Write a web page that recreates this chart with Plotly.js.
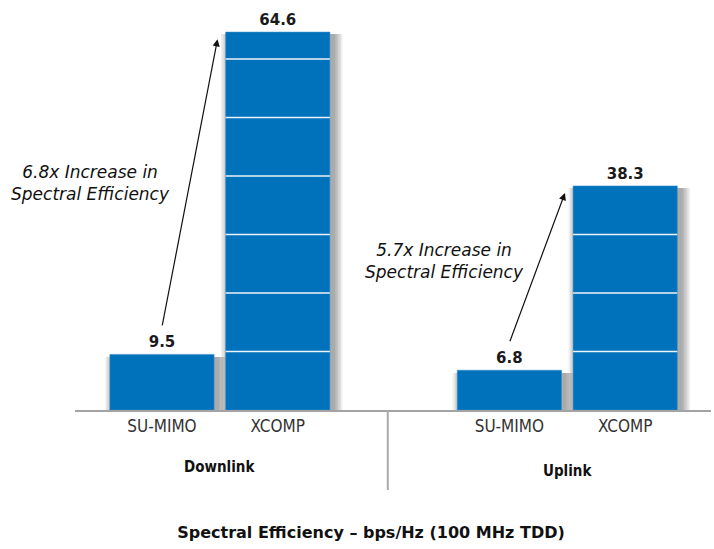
<!DOCTYPE html>
<html>
<head>
<meta charset="utf-8">
<script src="https://cdn.plot.ly/plotly-3.0.1.min.js"></script>
<style>
  html, body { margin: 0; padding: 0; background: #ffffff; }
  #chart { width: 714px; height: 549px; }
</style>
</head>
<body>
<div id="chart"></div>
<script>
// ---- data ----
const groups = ['Downlink', 'Uplink'];
const categories = ['SU-MIMO', 'XCOMP'];
const downlinkValues = [9.5, 64.6];
const uplinkValues = [6.8, 38.3];
const gainLabels = ['6.8x', '5.7x'];
const gridValues = [10, 20, 30, 40, 50, 60];
const chartTitle = 'Spectral Efficiency \u2013 bps/Hz (100 MHz TDD)';

// ---- derived ----
const groupValues = [downlinkValues, uplinkValues];
const xs = [], ys = [], tickText = [];
groupValues.forEach((vals, g) => {
  vals.forEach((v, c) => {
    xs.push(g * 3 + c);
    ys.push(v);
    tickText.push(categories[c]);
  });
});

const BAR_W = 0.9;
const BLUE = '#0071bb';
const traces = [];

// soft drop shadow behind the bars
for (let k = 1; k <= 12; k++) {
  traces.push({
    type: 'bar',
    x: xs.map(x => x + 0.035),
    y: ys.map(v => v - 0.4),
    width: BAR_W + k * 0.013,
    marker: { color: 'rgba(40,40,40,0.035)', line: { width: 0 } },
    hoverinfo: 'skip',
    showlegend: false
  });
}

traces.push({
  type: 'bar',
  x: xs,
  y: ys,
  width: BAR_W,
  marker: { color: BLUE, line: { width: 0.6, color: '#3a8fcc' } },
  text: ys.map(v => v.toFixed(1)),
  textposition: 'outside',
  cliponaxis: false,
  textfont: { family: 'DejaVu Sans', size: 15, color: '#1a1a1a', weight: 'bold' },
  hoverinfo: 'skip',
  showlegend: false
});

// white grid lines drawn across the bars only
const shapes = [];
xs.forEach((x, i) => {
  gridValues.forEach(g => {
    if (g < ys[i]) {
      shapes.push({
        type: 'line', xref: 'x', yref: 'y', layer: 'above',
        x0: x - BAR_W / 2, x1: x + BAR_W / 2, y0: g, y1: g,
        line: { color: 'rgba(255,255,255,0.92)', width: 1.5 }
      });
    }
  });
});
// group separator
shapes.push({
  type: 'line', xref: 'x', yref: 'paper', layer: 'above',
  x0: 1.95, x1: 1.95, y0: 0, y1: -0.195,
  line: { color: '#aaaaaa', width: 2 }
});

const annotations = [];
const groupLabelY = [-0.138, -0.150];
const textPos = [[-0.62, 38.8], [2.44, 25.5]];
groups.forEach((name, g) => {
  const su = g * 3, xc = g * 3 + 1;
  const vals = groupValues[g];
  // group label
  annotations.push({
    xref: 'x', yref: 'paper', x: (su + xc) / 2, y: groupLabelY[g],
    text: '<b>' + name + '</b>', showarrow: false,
    font: { family: 'DejaVu Sans Condensed, DejaVu Sans', size: 15, color: '#111' },
    xanchor: 'center', yanchor: 'middle'
  });
  // arrow
  annotations.push({
    xref: 'x', yref: 'y', axref: 'x', ayref: 'y',
    x: su + 0.48, y: vals[1] - 1.2,
    ax: su, ay: vals[0] + 4.7,
    text: '', showarrow: true,
    arrowhead: 2, arrowsize: 1.2, arrowwidth: 1.2, arrowcolor: '#111',
    standoff: 0, startstandoff: 0
  });
  // gain text
  annotations.push({
    xref: 'x', yref: 'y', x: textPos[g][0], y: textPos[g][1],
    text: '<i>' + gainLabels[g] + ' Increase in<br>Spectral Efficiency</i>',
    showarrow: false, align: 'center',
    font: { family: 'DejaVu Sans', size: 17, color: '#111' },
    xanchor: 'center', yanchor: 'middle'
  });
});

const layout = {
  width: 714, height: 549,
  margin: { l: 75, r: 3, t: 0, b: 139 },
  paper_bgcolor: '#ffffff', plot_bgcolor: '#ffffff',
  barmode: 'overlay',
  bargap: 0,
  showlegend: false,
  title: {
    text: '<b>' + chartTitle + '</b>',
    x: 0.5196, xref: 'container', y: 0.031, yref: 'container',
    xanchor: 'center', yanchor: 'middle',
    font: { family: 'DejaVu Sans', size: 16, color: '#111' }
  },
  xaxis: {
    range: [-0.751, 4.741],
    tickvals: xs, ticktext: tickText,
    ticks: '', showgrid: false, zeroline: false,
    showline: true, linecolor: '#a3a3a3', linewidth: 2,
    tickfont: { family: 'DejaVu Sans Condensed, DejaVu Sans', size: 17, color: '#333' },
    fixedrange: true
  },
  yaxis: {
    range: [0, 70.09],
    visible: false, showgrid: false, zeroline: false,
    fixedrange: true
  },
  shapes: shapes,
  annotations: annotations
};

Plotly.newPlot('chart', traces, layout, { displayModeBar: false, staticPlot: true });
</script>
</body>
</html>
